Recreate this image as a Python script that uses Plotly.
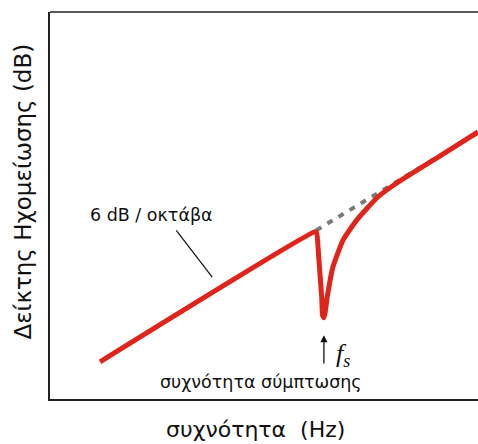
import plotly.graph_objects as go

# Sound reduction index curve (arbitrary units: x = log-frequency, y = dB)
curve_x = [1.17, 6.19, 6.23, 6.27, 6.31, 6.35, 6.37, 6.40, 6.43, 6.48, 6.61, 6.85, 7.17, 7.66, 8.13, 9.07, 10.0]
curve_y = [0.96, 4.32, 4.30, 3.80, 3.20, 2.60, 2.15, 2.10, 2.25, 2.65, 3.41, 4.11, 4.63, 5.22, 5.60, 6.25, 6.90]

# Mass-law extension (6 dB / octave) beyond the coincidence dip
mass_x = [6.22, 10.0]
mass_y = [4.36, 6.88]

fig = go.Figure()
fig.add_trace(go.Scatter(x=mass_x, y=mass_y, mode="lines",
                         line=dict(color="#7a7a7a", width=4, dash="6px,7px"),
                         hoverinfo="skip"))
fig.add_trace(go.Scatter(x=curve_x, y=curve_y, mode="lines",
                         line=dict(color="#e0241a", width=5, shape="spline", smoothing=0.5),
                         hoverinfo="skip"))

FONT = "DejaVu Sans, Liberation Sans, sans-serif"

fig.update_layout(
    width=478, height=444,
    margin=dict(l=50, r=0, t=12, b=45),
    paper_bgcolor="white", plot_bgcolor="white",
    showlegend=False,
    xaxis=dict(range=[0, 10], showgrid=False, zeroline=False, showticklabels=False,
               ticks="", showline=True, linecolor="#222", linewidth=1.5),
    yaxis=dict(range=[0, 10], showgrid=False, zeroline=False, showticklabels=False,
               ticks="", showline=True, linecolor="#222", linewidth=1.5),
    font=dict(family=FONT, color="#111"),
)

# top frame line (no right border in the reference)
fig.add_shape(type="line", xref="paper", yref="paper", x0=0, x1=1.01, y0=1, y1=1,
              line=dict(color="#222", width=1.5))

# leader line for the 6 dB / octave label
fig.add_shape(type="line", xref="x", yref="y", x0=2.95, y0=4.36, x1=3.79, y1=3.15,
              line=dict(color="#111", width=1.2))

fig.add_annotation(x=2.38, y=4.75, xref="x", yref="y", text="6 dB / οκτάβα",
                   showarrow=False, font=dict(size=17.5, family=FONT))

# coincidence frequency arrow (head at the top)
fig.add_annotation(x=6.40, y=1.65, ax=6.40, ay=0.88, xref="x", yref="y", axref="x", ayref="y",
                   text="", showarrow=True, arrowhead=2, arrowsize=1.1, arrowwidth=1.3,
                   arrowcolor="#111")
fig.add_annotation(x=6.64, y=1.15, xref="x", yref="y",
                   text="<i>f<sub>s</sub></i>", showarrow=False, xanchor="left",
                   font=dict(size=26, family="Liberation Serif, Times New Roman, serif"))
fig.add_annotation(x=4.93, y=0.44, xref="x", yref="y", text="συχνότητα σύμπτωσης",
                   showarrow=False, font=dict(size=17.5, family=FONT))

# axis titles
fig.add_annotation(x=0.48, y=-0.08, xref="paper", yref="paper", text="συχνότητα  (Hz)",
                   xanchor="center", yanchor="middle",
                   showarrow=False, font=dict(size=22, family=FONT))
fig.add_annotation(x=-0.064, y=0.535, xref="paper", yref="paper",
                   text="Δείκτης Ηχομείωσης (dB)", textangle=-90,
                   xanchor="center", yanchor="middle",
                   showarrow=False, font=dict(size=23, family=FONT))

fig.write_html("out.html", config={"displayModeBar": False},
               post_script="document.body.style.margin='0';document.body.style.overflow='hidden';")
